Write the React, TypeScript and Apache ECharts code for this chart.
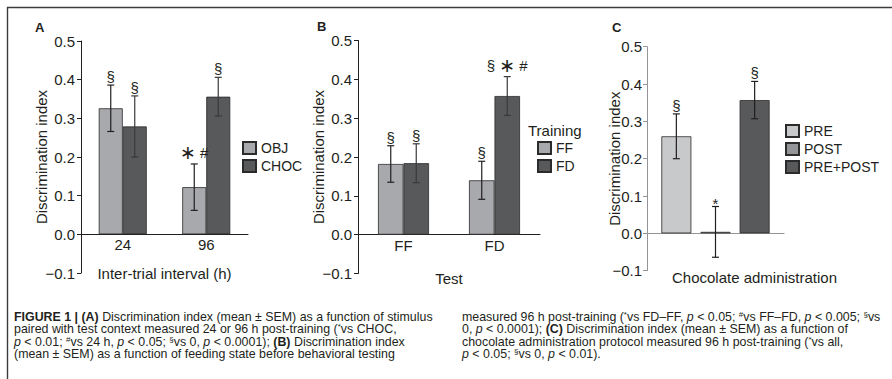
import React, { useEffect, useRef } from 'react';
import * as echarts from 'echarts';

const FONT = "'Liberation Sans', Arial, Helvetica, sans-serif";
const SYMFONT = "'Liberation Sans', 'DejaVu Sans', sans-serif";
const INK = '#231f20';

// ---------- Panel A ----------
const catA = ['24', '96'];
const objA = [0.326, 0.122];
const objErrA = [0.06, 0.06];
const chocA = [0.279, 0.356];
const chocErrA = [0.079, 0.05];
const objAnnA = ['§', '∗ #'];
const chocAnnA = ['§', '§'];

// ---------- Panel B ----------
const catB = ['FF', 'FD'];
const ffB = [0.182, 0.14];
const ffErrB = [0.047, 0.049];
const fdB = [0.184, 0.357];
const fdErrB = [0.05, 0.05];
const ffAnnB = ['§', '§'];
const fdAnnB = ['§', '§ ∗ #'];

// ---------- Panel C ----------
const groupsC = ['PRE', 'POST', 'PRE+POST'];
const valC = [0.26, 0.004, 0.357];
const errC = [0.06, 0.068, 0.05];
const annC = ['§', '*', '§'];

const yMin = -0.1;
const yMax = 0.5;
const yStep = 0.1;

const lightGray = '#a7a9ac';
const darkGray = '#58595b';
const colC = ['#c8c9cb', '#939598', '#58595b'];

const lo = (m: number[], e: number[]) => m.map((v, i) => v - e[i]);
const hi = (m: number[], e: number[]) => m.map((v, i) => v + e[i]);

function errSeries(
  xi: number,
  pos: number[],
  low: number[],
  high: number[],
  anns: string[],
  offset: number,
  color: string
) {
  return {
    type: 'custom',
    xAxisIndex: xi,
    yAxisIndex: xi,
    z: 5,
    silent: true,
    data: pos.map((p, i) => [p, low[i], high[i]]),
    encode: { x: 0, y: [1, 2] },
    renderItem: (params: any, api: any) => {
      const px = api.value(0);
      const a = api.coord([px, api.value(1)]);
      const b = api.coord([px, api.value(2)]);
      const cx = a[0] + offset;
      const cap = 3.5;
      const ann = anns[params.dataIndex];
      const ls = { stroke: color, lineWidth: 1.2 };
      return {
        type: 'group',
        children: [
          { type: 'line', shape: { x1: cx, y1: a[1], x2: cx, y2: b[1] }, style: ls },
          { type: 'line', shape: { x1: cx - cap, y1: a[1], x2: cx + cap, y2: a[1] }, style: ls },
          { type: 'line', shape: { x1: cx - cap, y1: b[1], x2: cx + cap, y2: b[1] }, style: ls },
          {
            type: 'text',
            x: cx,
            y: b[1] - 1 + (ann === '*' ? 6 : 0),
            style: {
              text: ann.replace('∗', '{a|∗}'),
              align: 'center',
              verticalAlign: 'bottom',
              fontSize: 15,
              fontFamily: SYMFONT,
              fill: INK,
              rich: {
                a: { fontSize: 19, fontFamily: "'DejaVu Sans', sans-serif", fill: INK, padding: [0, 0, 1, 0] },
              },
            },
          },
        ],
      };
    },
  };
}

function yAxisFor(gi: number, nameGap: number, axisColor: string, labelMargin: number) {
  return {
    type: 'value',
    gridIndex: gi,
    min: yMin,
    max: yMax,
    interval: yStep,
    axisLine: { show: true, onZero: false, lineStyle: { color: axisColor, width: 1 } },
    axisTick: { show: true, length: 4, lineStyle: { color: axisColor, width: 1 } },
    splitLine: { show: false },
    axisLabel: {
      fontSize: 15,
      fontFamily: FONT,
      color: INK,
      margin: labelMargin,
      formatter: (v: number) => (v < -0.05 ? '\u2212' + Math.abs(v).toFixed(1) : v.toFixed(1)),
    },
    name: 'Discrimination index',
    nameLocation: 'middle',
    nameRotate: 90,
    nameGap,
    nameMoveOverlap: false,
    nameTextStyle: { fontSize: 15, fontFamily: FONT, color: INK },
  };
}

function catXAxis(gi: number, data: string[], name: string, nameGap: number, off: number) {
  return {
    type: 'category',
    gridIndex: gi,
    data,
    offset: off,
    axisLine: { onZero: false, lineStyle: { color: INK, width: 1 } },
    axisTick: { show: false },
    axisLabel: { fontSize: 15, fontFamily: FONT, color: INK, margin: 3 },
    name,
    nameLocation: 'middle',
    nameGap,
    nameMoveOverlap: false,
    nameTextStyle: { fontSize: 15, fontFamily: FONT, color: INK },
  };
}

const CF = 12.4;
const CL = 12.4;
const capStyle = {
  n: { fontSize: CF, fontFamily: FONT, fill: INK, lineHeight: CL },
  b: { fontSize: CF, fontFamily: FONT, fill: INK, fontWeight: 'bold', lineHeight: CL },
  i: { fontSize: CF, fontFamily: FONT, fill: INK, fontStyle: 'italic', lineHeight: CL },
  s: { fontSize: 8, fontFamily: FONT, fill: INK, lineHeight: CL, verticalAlign: 'top' },
};

const captionLeft = [
  '{b|FIGURE 1 | (A)}{n| Discrimination index (mean ± SEM) as a function of stimulus}',
  '{n|paired with test context measured 24 or 96 h post-training (}{s|*}{n|vs CHOC,}',
  '{i|p}{n| < 0.01; }{s|#}{n|vs 24 h, }{i|p}{n| < 0.05; }{s|§}{n|vs 0, }{i|p}{n| < 0.0001); }{b|(B)}{n| Discrimination index}',
  '{n|(mean ± SEM) as a function of feeding state before behavioral testing}',
];
const captionRight = [
  '{n|measured 96 h post-training (}{s|*}{n|vs FD–FF, }{i|p}{n| < 0.05; }{s|#}{n|vs FF–FD, }{i|p}{n| < 0.005; }{s|§}{n|vs}',
  '{n|0, }{i|p}{n| < 0.0001); }{b|(C)}{n| Discrimination index (mean ± SEM) as a function of}',
  '{n|chocolate administration protocol measured 96 h post-training (}{s|*}{n|vs all,}',
  '{i|p}{n| < 0.05; }{s|§}{n|vs 0, }{i|p}{n| < 0.01).}',
];

export default function App() {
  const ref = useRef<HTMLDivElement>(null);

  useEffect(() => {
    if (!ref.current) return;
    const chart = echarts.init(ref.current, undefined, { renderer: 'svg' });

    const barBorder = { borderColor: '#2b2b2b', borderWidth: 0.8 };
    const legendCommon = {
      orient: 'vertical',
      icon: 'rect',
      itemWidth: 13,
      itemHeight: 12,
      itemGap: 4,
      selectedMode: false,
      padding: 0,
      textStyle: { fontSize: 14, fontFamily: FONT, color: INK },
    };

    const option: any = {
      animation: false,
      backgroundColor: '#ffffff',
      title: [
        { text: 'A', left: 35, top: 21, padding: 0, textStyle: { fontSize: 13, fontWeight: 'bold', fontFamily: FONT, color: INK } },
        { text: 'B', left: 317, top: 20, padding: 0, textStyle: { fontSize: 13, fontWeight: 'bold', fontFamily: FONT, color: INK } },
        { text: 'C', left: 612, top: 21, padding: 0, textStyle: { fontSize: 13, fontWeight: 'bold', fontFamily: FONT, color: INK } },
        { text: 'Training', left: 528, top: 123, padding: 0, textStyle: { fontSize: 15, fontWeight: 'normal', fontFamily: FONT, color: INK } },
      ],
      legend: [
        { ...legendCommon, data: ['OBJ', 'CHOC'], left: 242, top: 141 },
        { ...legendCommon, data: ['FF', 'FD'], left: 537, top: 141 },
        { ...legendCommon, data: groupsC, left: 785, top: 124, itemGap: 4 },
      ],
      grid: [
        { left: 81, top: 41, width: 167, height: 232 },
        { left: 358, top: 40.5, width: 182, height: 233 },
        { left: 647, top: 46.7, width: 137, height: 224 },
      ],
      xAxis: [
        catXAxis(0, catA, 'Inter-trial interval (h)', 32, -38.7),
        catXAxis(1, catB, 'Test', 36, -38.8),
        {
          type: 'value',
          gridIndex: 2,
          min: -0.75,
          max: 2.75,
          offset: -37.3,
          axisLine: { onZero: false, lineStyle: { color: '#939598', width: 1.2 } },
          axisTick: { show: false },
          axisLabel: { show: false },
          splitLine: { show: false },
          name: 'Chocolate administration',
          nameLocation: 'middle',
          nameGap: 37,
          nameMoveOverlap: false,
          nameTextStyle: { fontSize: 15, fontFamily: FONT, color: INK, padding: [0, 0, 0, 78] },
        },
      ],
      yAxis: [yAxisFor(0, 32, INK, 6), yAxisFor(1, 32, INK, 6), yAxisFor(2, 25, '#939598', 5)],
      series: [
        { type: 'bar', name: 'OBJ', xAxisIndex: 0, yAxisIndex: 0, data: objA, barWidth: 24, barGap: '0%', itemStyle: { color: lightGray, ...barBorder } },
        { type: 'bar', name: 'CHOC', xAxisIndex: 0, yAxisIndex: 0, data: chocA, barWidth: 24, barGap: '0%', itemStyle: { color: darkGray, ...barBorder } },
        { type: 'bar', name: 'FF', xAxisIndex: 1, yAxisIndex: 1, data: ffB, barWidth: 25.5, barGap: '0%', itemStyle: { color: lightGray, ...barBorder } },
        { type: 'bar', name: 'FD', xAxisIndex: 1, yAxisIndex: 1, data: fdB, barWidth: 25.5, barGap: '0%', itemStyle: { color: darkGray, ...barBorder } },
        ...groupsC.map((g, i) => ({
          type: 'bar',
          name: g,
          xAxisIndex: 2,
          yAxisIndex: 2,
          stack: 'c',
          barWidth: 30,
          data: [[i, valC[i]]],
          itemStyle: { color: colC[i], ...barBorder },
        })),
        errSeries(0, [0, 1], lo(objA, objErrA), hi(objA, objErrA), objAnnA, -12, INK),
        errSeries(0, [0, 1], lo(chocA, chocErrA), hi(chocA, chocErrA), chocAnnA, 12, '#3a3a3a'),
        errSeries(1, [0, 1], lo(ffB, ffErrB), hi(ffB, ffErrB), ffAnnB, -12.75, INK),
        errSeries(1, [0, 1], lo(fdB, fdErrB), hi(fdB, fdErrB), fdAnnB, 12.75, '#3a3a3a'),
        errSeries(2, [0, 1, 2], lo(valC, errC), hi(valC, errC), annC, 0, INK),
      ],
      graphic: [
        { type: 'line', shape: { x1: 7.5, y1: 7, x2: 7.5, y2: 379 }, style: { stroke: '#3c3c3c', lineWidth: 1.4 } },
        { type: 'line', shape: { x1: 7, y1: 7.5, x2: 892, y2: 7.5 }, style: { stroke: '#3c3c3c', lineWidth: 1.4 } },
        {
          type: 'text',
          left: 14,
          top: 310.5,
          style: { text: captionLeft.join('\n'), rich: capStyle, fontSize: CF, fontFamily: FONT, fill: INK, lineHeight: CL },
        },
        {
          type: 'text',
          left: 462,
          top: 310.5,
          style: { text: captionRight.join('\n'), rich: capStyle, fontSize: CF, fontFamily: FONT, fill: INK, lineHeight: CL },
        },
      ],
    };

    chart.setOption(option);
    return () => chart.dispose();
  }, []);

  return <div ref={ref} style={{ width: 892, height: 379, position: 'absolute', left: 0, top: 0 }} />;
}
